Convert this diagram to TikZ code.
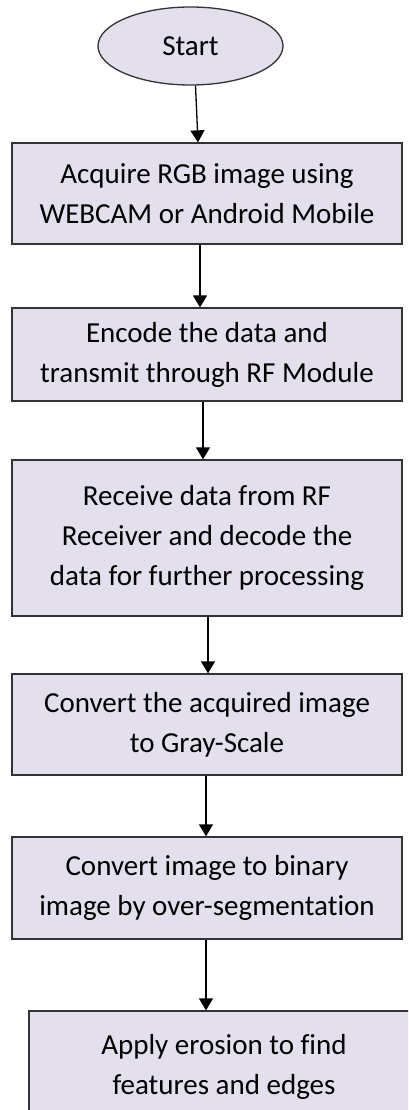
\documentclass[tikz,border=0pt]{standalone}
\usepackage{fontspec}
\setmainfont[Ligatures=NoCommon,RawFeature={-calt;-clig}]{Carlito}
\usetikzlibrary{shapes.geometric,arrows.meta}
\definecolor{boxfill}{HTML}{E4DFEC}
\definecolor{boxline}{HTML}{333333}
\begin{document}
\begin{tikzpicture}[x=1pt,y=-1pt,
  stepbox/.style={draw=boxline, line width=1.3pt, fill=boxfill, align=center,
    font=\fontsize{29}{40}\selectfont, inner sep=0pt, minimum width=390pt},
  startnode/.style={ellipse, draw=boxline, line width=1.3pt, fill=boxfill,
    font=\fontsize{29}{40}\selectfont, inner sep=0pt, minimum width=185pt, minimum height=78pt},
  arr/.style={line width=1.3pt, -{Triangle[width=14pt,length=12pt]}}]
\clip (0,0) rectangle (408,1110);
\fill[white] (0,0) rectangle (408,1110);
\node[startnode] (start) at (190.5,46) {Start};
\node[stepbox, minimum height=101pt] (acq) at (207,193.5) {Acquire RGB image using\\WEBCAM or Android Mobile};
\node[stepbox, minimum height=93pt] (enc) at (207,354.5) {Encode the data and\\transmit through RF Module};
\node[stepbox, minimum height=156pt] (rec) at (207,538) {Receive data from RF\\Receiver and decode the\\data for further processing};
\node[stepbox, minimum height=101pt] (gray) at (207,724.5) {Convert the acquired image\\to Gray-Scale};
\node[stepbox, minimum height=102pt] (bin) at (207,888) {Convert image to binary\\image by over-segmentation};
\node[stepbox, minimum height=112pt] (ero) at (224,1067) {Apply erosion to find\\features and edges};
\draw[arr] ([xshift=5pt]start.south) -- ([xshift=-9pt]acq.north);
\draw[arr] ([xshift=-7pt]acq.south) -- ([xshift=-7pt]enc.north);
\draw[arr] ([xshift=-4pt]enc.south) -- ([xshift=-4pt]rec.north);
\draw[arr] ([xshift=1pt]rec.south) -- ([xshift=1pt]gray.north);
\draw[arr] ([xshift=-1pt]gray.south) -- ([xshift=-1pt]bin.north);
\draw[arr] ([xshift=-1pt]bin.south) -- ([xshift=-18pt]ero.north);
\end{tikzpicture}
\end{document}
